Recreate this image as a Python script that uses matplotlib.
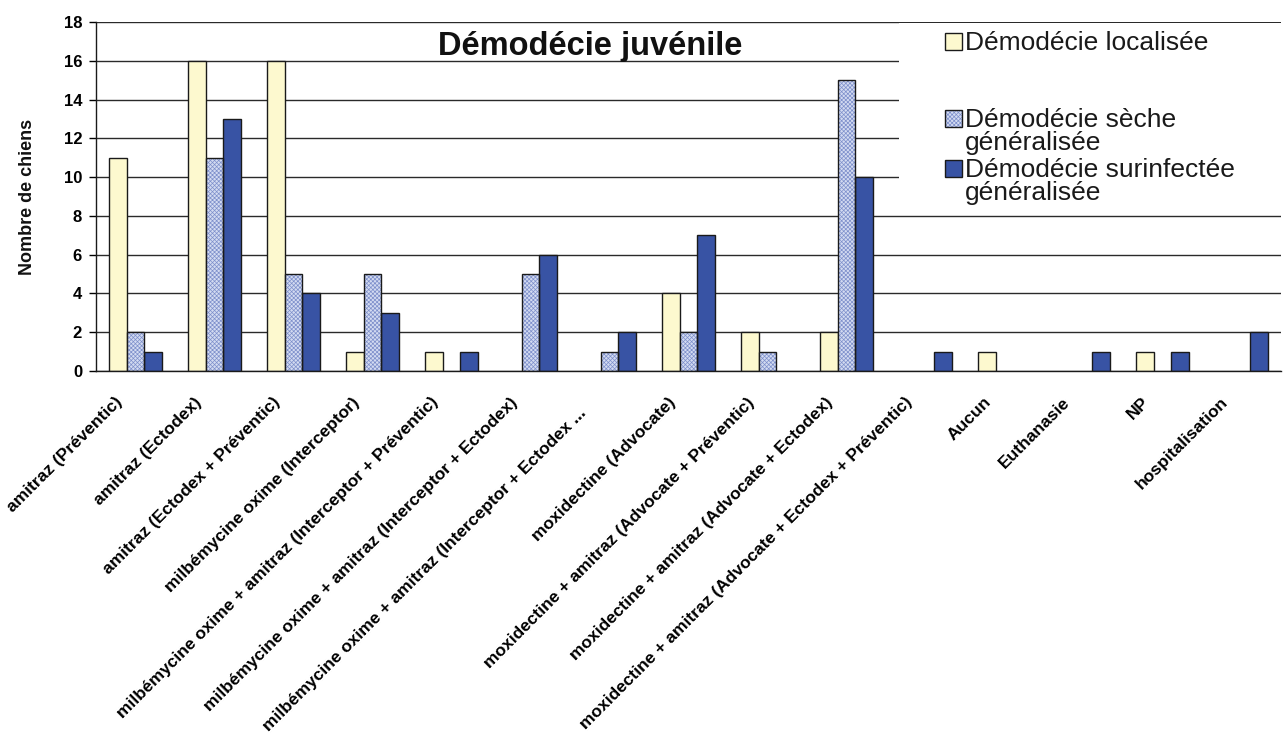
import numpy as np
import matplotlib
matplotlib.use("Agg")
import matplotlib.pyplot as plt
import matplotlib.transforms as mtransforms
from matplotlib.patches import Rectangle

plt.rcParams['font.family'] = ['Liberation Sans', 'DejaVu Sans']
plt.rcParams['hatch.linewidth'] = 0.5

# ---- data ----
categories = [
    "amitraz (Préventic)",
    "amitraz (Ectodex)",
    "amitraz (Ectodex + Préventic)",
    "milbémycine oxime (Interceptor)",
    "milbémycine oxime + amitraz (Interceptor + Préventic)",
    "milbémycine oxime + amitraz (Interceptor + Ectodex)",
    "milbémycine oxime + amitraz (Interceptor + Ectodex ...   ",
    "moxidectine (Advocate)",
    "moxidectine + amitraz (Advocate + Préventic)",
    "moxidectine + amitraz (Advocate + Ectodex)",
    "moxidectine + amitraz (Advocate + Ectodex + Préventic)",
    "Aucun",
    "Euthanasie",
    "NP",
    "hospitalisation",
]
localisee = [11, 16, 16, 1, 1, 0, 0, 4, 2, 2, 0, 1, 0, 1, 0]
seche_generalisee = [2, 11, 5, 5, 0, 5, 1, 2, 1, 15, 0, 0, 0, 0, 0]
surinfectee_generalisee = [1, 13, 4, 3, 1, 6, 2, 7, 0, 10, 1, 0, 1, 1, 2]
series_labels = ["Démodécie localisée",
                 ["Démodécie sèche", "généralisée"],
                 ["Démodécie surinfectée", "généralisée"]]
yticks = list(range(0, 19, 2))
title = "Démodécie juvénile"
ylabel = "Nombre de chiens"

# ---- style ----
c_loc = "#fdf9cf"
c_sec_face = "#d3dbf1"
c_sec_hatch = "#7d8fcb"
c_sur = "#3853a4"
c_edge = "#1a1a1a"

W, H = 1288, 738
fig = plt.figure(figsize=(W / 100, H / 100), dpi=100)
fig.patch.set_facecolor("white")

def fx(px):
    return px / W

def fy(py):
    return 1 - py / H

ax = fig.add_axes([fx(96), fy(371), (1281 - 96) / W, (371 - 22) / H])

x = np.arange(len(categories))
bw = 0.222

def edge_widths(vals):
    # no outline for empty bars
    return [1.0 if v > 0 else 0.0 for v in vals]

ax.bar(x - bw, localisee, bw, color=c_loc, edgecolor=c_edge,
       linewidth=edge_widths(localisee), zorder=2)
# hatched series: fill with the fine pattern, then outline
ax.bar(x, seche_generalisee, bw, color=c_sec_face, edgecolor=c_sec_hatch,
       hatch="xxxxxxxx", linewidth=0, zorder=2)
ax.bar(x, seche_generalisee, bw, color="none", edgecolor=c_edge,
       linewidth=edge_widths(seche_generalisee), zorder=2.1)
ax.bar(x + bw, surinfectee_generalisee, bw, color=c_sur, edgecolor=c_edge,
       linewidth=edge_widths(surinfectee_generalisee), zorder=2)

ax.set_xlim(-0.5, len(categories) - 0.5)
ax.set_ylim(0, 18)
ax.set_yticks(yticks)
ax.yaxis.grid(True, color="#2a2a2a", linewidth=1.0)
ax.set_axisbelow(True)

for s in ["top", "right"]:
    ax.spines[s].set_visible(False)
for s in ["left", "bottom"]:
    ax.spines[s].set_color("#1a1a1a")
    ax.spines[s].set_linewidth(1.0)
    ax.spines[s].set_zorder(3)

ax.tick_params(axis="y", length=5, width=1.0, pad=5, labelsize=12)
for lab in ax.get_yticklabels():
    lab.set_fontweight("bold")

ax.set_xticks(x)
ax.set_xticklabels(categories, rotation=45, ha="right", va="top",
                   rotation_mode="anchor", fontsize=12.5, fontweight="bold")
ax.tick_params(axis="x", length=0, pad=17)
shift = mtransforms.ScaledTranslation(-21 / 100, 0, fig.dpi_scale_trans)
for lab in ax.get_xticklabels():
    lab.set_transform(lab.get_transform() + shift)

# legend panel (white box hiding the grid behind it)
ax.add_patch(Rectangle((0.6776, 0.447), 1 - 0.6776, 0.997 - 0.447,
                       transform=ax.transAxes, facecolor="white",
                       edgecolor="none", zorder=1))

leg_fs = 19
sq = 17
legend_rows = [
    (50, [50], dict(facecolor=c_loc, edgecolor=c_edge)),
    (127, [127, 150], None),
    (177, [177, 200], dict(facecolor=c_sur, edgecolor=c_edge)),
]
for (base, lines, style), lab in zip(legend_rows, series_labels):
    if style is None:
        fig.patches.append(Rectangle((fx(945), fy(base)), sq / W, sq / H,
                                     transform=fig.transFigure, facecolor=c_sec_face,
                                     edgecolor=c_sec_hatch, hatch="xxxxxxxx", linewidth=0))
        fig.patches.append(Rectangle((fx(945), fy(base)), sq / W, sq / H,
                                     transform=fig.transFigure, facecolor="none",
                                     edgecolor=c_edge, linewidth=1.0))
    else:
        fig.patches.append(Rectangle((fx(945), fy(base)), sq / W, sq / H,
                                     transform=fig.transFigure, linewidth=1.0, **style))
    texts = lab if isinstance(lab, list) else [lab]
    for t, b in zip(texts, lines):
        fig.text(fx(965), fy(b), t, fontsize=leg_fs, ha="left", va="baseline",
                 color="#1a1a1a")

fig.text(fx(590), fy(55), title, fontsize=23.5, fontweight="bold",
         ha="center", va="baseline", color="#111111")
fig.text(fx(27), fy(197), ylabel, rotation=90, fontsize=13, fontweight="bold",
         ha="center", va="center", color="#111111")

fig.savefig("out.png", dpi=100)
